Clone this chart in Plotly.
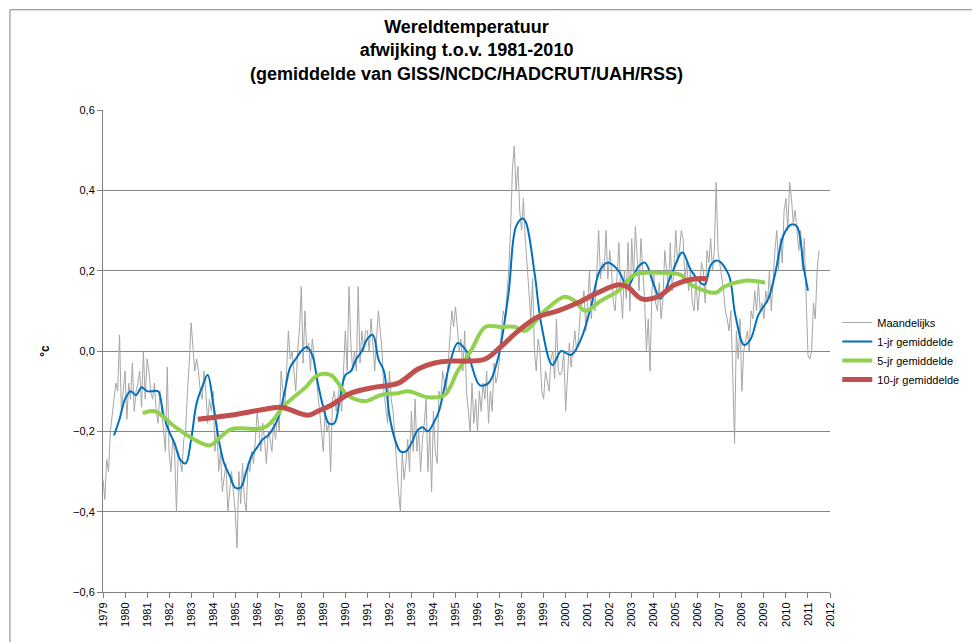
import numpy as np
import plotly.graph_objects as go

monthly = [
-0.32,-0.37,-0.27,-0.30,-0.20,-0.15,-0.12,-0.08,-0.10,0.04,-0.15,-0.10,
-0.05,-0.17,-0.08,-0.12,-0.03,-0.15,-0.10,-0.08,-0.05,-0.14,0.00,-0.12,
-0.02,-0.05,-0.10,-0.12,-0.08,-0.15,-0.18,-0.10,-0.15,-0.20,-0.25,-0.04,
-0.25,-0.30,-0.22,-0.25,-0.40,-0.25,-0.28,-0.30,-0.22,-0.20,-0.10,-0.03,
0.07,0.00,-0.05,-0.02,-0.05,-0.10,-0.12,-0.05,-0.10,-0.18,-0.12,-0.15,
-0.10,-0.25,-0.18,-0.30,-0.25,-0.35,-0.32,-0.28,-0.40,-0.35,-0.30,-0.35,
-0.40,-0.49,-0.30,-0.38,-0.28,-0.37,-0.40,-0.28,-0.30,-0.25,-0.28,-0.22,
-0.15,-0.20,-0.25,-0.18,-0.22,-0.28,-0.20,-0.22,-0.25,-0.18,-0.22,-0.15,
-0.20,-0.05,-0.10,-0.15,-0.05,0.05,-0.02,0.00,-0.05,-0.10,0.00,0.05,
0.16,-0.03,0.10,0.00,0.02,-0.05,0.03,-0.02,-0.05,-0.10,-0.15,-0.20,
-0.25,-0.15,-0.20,-0.18,-0.30,-0.12,-0.10,-0.15,-0.12,-0.08,-0.15,-0.05,
0.05,-0.05,0.16,0.02,-0.05,0.00,-0.05,0.16,-0.03,0.05,0.00,0.05,
0.05,0.00,0.08,0.02,-0.05,0.03,0.10,0.05,0.00,-0.10,-0.15,-0.18,
-0.05,-0.12,-0.15,-0.22,-0.30,-0.35,-0.40,-0.25,-0.32,-0.28,-0.22,-0.30,
-0.15,-0.25,-0.12,-0.25,-0.20,-0.30,-0.22,-0.18,-0.12,-0.30,-0.20,-0.35,
-0.15,-0.25,-0.28,-0.10,-0.12,-0.05,-0.08,-0.10,-0.03,0.05,0.10,0.06,
0.11,0.06,0.00,0.03,-0.05,0.05,-0.10,-0.15,-0.20,-0.08,-0.18,-0.12,
-0.20,-0.10,-0.15,-0.08,-0.12,-0.05,-0.18,-0.10,-0.15,-0.03,-0.08,-0.06,
-0.02,0.05,0.10,0.08,0.15,0.20,0.30,0.45,0.51,0.40,0.46,0.35,
0.30,0.38,0.28,0.20,0.15,0.08,0.18,0.00,-0.05,0.03,0.00,-0.10,
-0.12,-0.05,-0.08,-0.10,-0.02,0.00,-0.07,0.08,-0.05,-0.06,-0.05,0.00,
-0.15,-0.05,0.02,-0.04,0.00,0.05,0.00,0.03,0.10,0.12,0.15,0.05,
0.12,0.20,0.08,0.15,0.10,0.21,0.30,0.18,0.22,0.20,0.30,0.18,
0.25,0.20,0.12,0.10,0.18,0.27,0.15,0.08,0.20,0.13,0.27,0.10,
0.28,0.18,0.31,0.22,0.15,0.28,0.20,0.13,0.00,0.08,-0.05,0.15,
0.20,0.12,0.10,0.17,0.08,0.13,0.25,0.20,0.15,0.27,0.15,0.20,
0.30,0.22,0.25,0.30,0.28,0.18,0.22,0.15,0.20,0.12,0.10,0.18,
0.10,0.15,0.22,0.20,0.12,0.25,0.22,0.28,0.20,0.25,0.42,0.25,
0.22,0.18,0.15,0.10,0.08,0.05,0.10,-0.05,-0.23,0.05,-0.02,0.08,
-0.10,0.00,0.03,0.05,0.00,0.10,0.08,0.15,0.10,0.17,0.10,0.12,
0.08,0.15,0.12,0.20,0.10,0.18,0.25,0.30,0.20,0.28,0.22,0.35,
0.38,0.30,0.42,0.38,0.32,0.35,0.30,0.25,0.30,0.20,0.28,0.15,
-0.01,-0.02,0.00,0.12,0.08,0.20,0.25]
monthly_start = 1979.0

y1_x = [1979.5,1979.75,1980.0,1980.25,1980.5,1980.75,1981.0,1981.25,1981.5,1981.75,1982.0,1982.25,1982.5,1982.75,
        1983.0,1983.25,1983.5,1983.75,1984.0,1984.25,1984.5,1984.75,1985.0,1985.25,1985.5,1985.75,1986.0,1986.25,
        1986.5,1986.75,1987.0,1987.25,1987.5,1987.75,1988.0,1988.25,1988.5,1988.75,1989.0,1989.25,1989.5,1989.75,
        1990.0,1990.25,1990.5,1990.75,1991.0,1991.25,1991.5,1991.75,1992.0,1992.25,1992.5,1992.75,1993.0,1993.25,
        1993.5,1993.75,1994.0,1994.25,1994.5,1994.75,1995.1,1995.5,1996.1,1996.5,1996.9,1997.4,1997.75,1998.05,
        1998.2,1998.6,1998.9,1999.4,1999.8,2000.25,2000.7,2001.15,2001.55,2001.9,2002.4,2002.8,2003.3,2003.6,
        2004.0,2004.3,2004.8,2005.3,2005.7,2006.3,2006.6,2006.9,2007.4,2007.7,2008.1,2008.4,2008.75,2009.2,
        2009.5,2009.9,2010.25,2010.5,2010.8,2011.0]
y1_v = [-0.21,-0.17,-0.12,-0.10,-0.11,-0.09,-0.10,-0.10,-0.10,-0.16,-0.20,-0.23,-0.27,-0.28,
        -0.22,-0.13,-0.09,-0.06,-0.13,-0.22,-0.28,-0.31,-0.34,-0.34,-0.30,-0.26,-0.24,-0.22,
        -0.21,-0.19,-0.16,-0.10,-0.04,-0.02,0.00,0.01,-0.01,-0.08,-0.14,-0.18,-0.18,-0.12,
        -0.06,-0.05,-0.02,0.00,0.03,0.04,-0.02,-0.05,-0.16,-0.22,-0.25,-0.25,-0.23,-0.20,
        -0.19,-0.20,-0.18,-0.15,-0.09,-0.03,0.02,0.00,-0.085,-0.08,-0.025,0.14,0.31,0.33,
        0.32,0.19,0.065,-0.035,0.0,-0.01,0.03,0.11,0.20,0.22,0.20,0.16,0.21,0.22,
        0.165,0.13,0.19,0.245,0.20,0.165,0.215,0.225,0.19,0.09,0.015,0.03,0.09,0.13,
        0.19,0.29,0.315,0.31,0.21,0.15]

y5_x = [1980.8,1981.35,1982.3,1983.3,1983.85,1984.8,1986.35,1987.25,1988.2,1988.75,1989.35,1990.1,1990.9,
        1991.6,1992.4,1992.85,1993.75,1994.5,1995.1,1995.7,1996.35,1997.05,1997.7,1998.15,1999.05,1999.95,
        2000.4,2000.9,2001.6,2002.4,2003.15,2004.2,2005.2,2005.7,2006.8,2007.2,2008.15,2009.05]
y5_v = [-0.155,-0.15,-0.19,-0.225,-0.235,-0.195,-0.19,-0.135,-0.09,-0.06,-0.06,-0.11,-0.125,
        -0.11,-0.105,-0.10,-0.115,-0.11,-0.05,0.0,0.06,0.06,0.06,0.05,0.10,0.135,
        0.125,0.10,0.125,0.15,0.19,0.195,0.19,0.165,0.145,0.16,0.175,0.17]

y10_x = [1983.3,1984.8,1986.35,1987.1,1988.3,1988.75,1989.35,1990.25,1991.35,1992.4,1993.3,1994.05,1994.8,
         1995.6,1996.35,1997.05,1997.85,1998.75,1999.65,2000.55,2001.45,2002.4,2002.8,2003.45,2004.2,2004.95,
         2005.9,2006.45]
y10_v = [-0.17,-0.16,-0.145,-0.14,-0.16,-0.15,-0.135,-0.105,-0.09,-0.08,-0.045,-0.03,-0.025,
         -0.025,-0.02,0.01,0.05,0.085,0.10,0.12,0.145,0.165,0.16,0.13,0.135,0.165,
         0.18,0.18]

years = list(range(1979, 2013))
yticks = [-0.6, -0.4, -0.2, 0.0, 0.2, 0.4, 0.6]

mx = monthly_start + np.arange(len(monthly)) / 12.0

fig = go.Figure()
fig.add_trace(go.Scatter(x=mx, y=monthly, mode="lines", name="Maandelijks",
                         line=dict(color="#a6a6a6", width=1)))
fig.add_trace(go.Scatter(x=y1_x, y=y1_v, mode="lines", name="1-jr gemiddelde",
                         line=dict(color="#0070c0", width=2, shape="spline")))
fig.add_trace(go.Scatter(x=y5_x, y=y5_v, mode="lines", name="5-jr gemiddelde",
                         line=dict(color="#92d050", width=4, shape="spline")))
fig.add_trace(go.Scatter(x=y10_x, y=y10_v, mode="lines", name="10-jr gemiddelde",
                         line=dict(color="#c0504d", width=5, shape="spline")))

fig.update_layout(
    width=980, height=642,
    paper_bgcolor="white", plot_bgcolor="white",
    margin=dict(l=95, r=158, t=102, b=58, autoexpand=False),
    separators=",.",
    font=dict(family="Liberation Sans, Arial", size=11, color="black"),
    annotations=[dict(text="<b>Wereldtemperatuur<br>afwijking t.o.v. 1981-2010<br>(gemiddelde van GISS/NCDC/HADCRUT/UAH/RSS)</b>",
                      xref="paper", yref="paper", x=0.5, y=1.0, yshift=95, xanchor="center", yanchor="top",
                      showarrow=False, font=dict(size=18, family="Liberation Sans, Arial"))],
    legend=dict(x=1.01, y=0.5, xanchor="left", yanchor="middle",
                font=dict(size=11), tracegroupgap=8),
    showlegend=True,
    shapes=[dict(type="rect", xref="paper", yref="paper", x0=-0.128, x1=1.214, y0=-0.118, y1=1.208,
                 line=dict(color="#808080", width=1))],
)
fig.update_xaxes(range=[1979, 2012], tickmode="array", tickvals=years, ticktext=[str(y) for y in years],
                 tickangle=-90, showgrid=False, showline=True, linecolor="#808080", automargin=False,
                 ticks="outside", ticklen=5, tickcolor="#808080", tickfont=dict(size=11))
fig.update_yaxes(range=[-0.6, 0.6], tickmode="array", tickvals=yticks, tickformat=".1f", automargin=False,
                 showgrid=True, gridcolor="#868686", gridwidth=1, zeroline=False,
                 showline=True, linecolor="#808080", ticks="outside", ticklen=5, tickcolor="#808080",
                 title=dict(text="<b>°c</b>", standoff=20, font=dict(size=12)))
fig.write_html("out.html")
